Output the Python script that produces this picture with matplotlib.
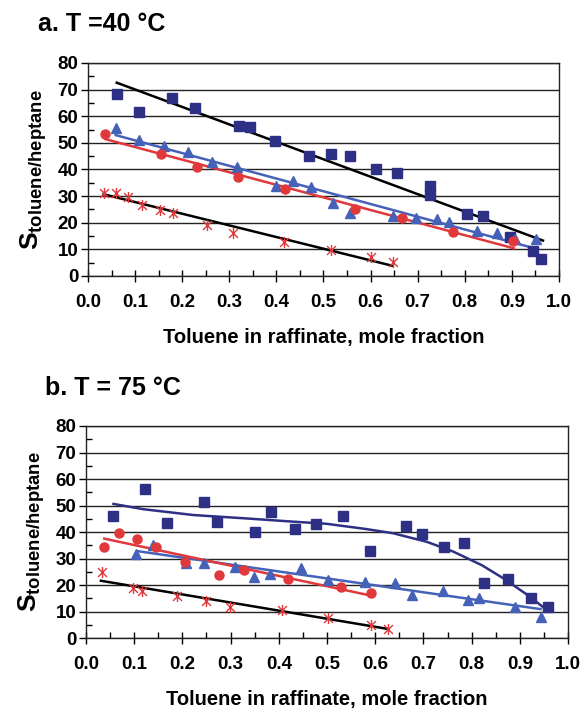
import matplotlib
matplotlib.use('Agg')
import matplotlib.pyplot as plt
from matplotlib.ticker import MultipleLocator
from matplotlib.path import Path

plt.rcParams['font.family'] = ['Liberation Sans', 'DejaVu Sans']
plt.rcParams['font.weight'] = 'bold'
plt.rcParams['mathtext.fontset'] = 'custom'
plt.rcParams['mathtext.rm'] = 'Liberation Sans:bold'
plt.rcParams['mathtext.bf'] = 'Liberation Sans:bold'

NAVY = '#2E3086'
BLUE = '#4562B8'
RED = '#E0383B'

# Excel-like star marker: an X with a vertical bar
STAR = Path([(0, -1), (0, 1), (-0.8, -0.8), (0.8, 0.8), (-0.8, 0.8), (0.8, -0.8)],
            [Path.MOVETO, Path.LINETO, Path.MOVETO, Path.LINETO, Path.MOVETO, Path.LINETO])

# ---------------- a. T = 40 C ----------------
sq40_x = [0.061, 0.108, 0.178, 0.227, 0.321, 0.343, 0.397, 0.469, 0.516, 0.557,
          0.611, 0.656, 0.726, 0.726, 0.805, 0.838, 0.895, 0.945, 0.962]
sq40_y = [68.3, 61.5, 66.7, 63.0, 56.3, 55.9, 50.6, 45.0, 46.0, 45.1,
          40.0, 38.5, 33.9, 30.6, 23.2, 22.6, 14.8, 9.3, 6.4]
sq40_fit_x = [0.061, 0.966]
sq40_fit_y = [72.6, 13.3]

tri40_x = [0.059, 0.109, 0.161, 0.213, 0.263, 0.316, 0.399, 0.436, 0.473, 0.520,
           0.556, 0.647, 0.696, 0.740, 0.766, 0.825, 0.868, 0.907, 0.951]
tri40_y = [55.5, 50.9, 49.0, 46.7, 42.7, 41.1, 33.7, 35.7, 33.6, 27.3,
           23.6, 22.6, 21.9, 21.3, 20.4, 16.9, 16.3, 13.9, 13.8]
tri40_fit_x = [0.059, 0.950]
tri40_fit_y = [52.9, 10.3]

cir40_x = [0.036, 0.156, 0.232, 0.318, 0.418, 0.567, 0.666, 0.776, 0.902]
cir40_y = [53.5, 45.9, 41.1, 37.3, 32.7, 25.1, 21.9, 16.7, 13.0]
cir40_fit_x = [0.037, 0.904]
cir40_fit_y = [51.4, 10.4]

star40_x = [0.033, 0.059, 0.084, 0.115, 0.153, 0.181, 0.253, 0.308, 0.416,
            0.517, 0.600, 0.647]
star40_y = [31.1, 31.1, 29.8, 26.7, 24.8, 23.6, 19.2, 16.3, 12.7,
            9.8, 7.0, 5.1]
star40_fit_x = [0.033, 0.647]
star40_fit_y = [30.7, 3.8]

# ---------------- b. T = 75 C ----------------
sq75_x = [0.057, 0.122, 0.169, 0.245, 0.271, 0.351, 0.384, 0.434, 0.477, 0.533,
          0.589, 0.663, 0.697, 0.743, 0.784, 0.826, 0.875, 0.923, 0.958]
sq75_y = [45.9, 56.4, 43.3, 51.4, 43.7, 40.0, 47.7, 41.1, 43.1, 45.9,
          32.7, 42.4, 39.1, 34.5, 36.0, 20.8, 22.3, 15.2, 11.6]
sq75_fit_x = [0.057, 0.119, 0.223, 0.326, 0.430, 0.499, 0.582, 0.638, 0.707,
              0.762, 0.821, 0.866, 0.921, 0.952]
sq75_fit_y = [50.6, 48.6, 46.4, 45.2, 43.9, 43.1, 41.1, 39.5, 36.3,
              32.6, 27.5, 22.5, 15.6, 11.1]

tri75_x = [0.104, 0.138, 0.207, 0.245, 0.309, 0.349, 0.382, 0.447, 0.503, 0.579,
           0.641, 0.676, 0.740, 0.793, 0.815, 0.890, 0.943]
tri75_y = [31.8, 35.1, 28.2, 28.4, 26.9, 23.1, 24.0, 26.3, 21.9, 21.1,
           20.6, 16.3, 17.8, 14.3, 15.2, 11.8, 7.9]
tri75_fit_x = [0.106, 0.943]
tri75_fit_y = [32.8, 10.9]

cir75_x = [0.037, 0.069, 0.106, 0.145, 0.205, 0.276, 0.328, 0.420, 0.529, 0.591]
cir75_y = [34.3, 39.5, 37.5, 34.3, 28.8, 23.9, 25.7, 22.3, 19.4, 17.0]
cir75_fit_x = [0.038, 0.591]
cir75_fit_y = [37.5, 16.0]

star75_x = [0.033, 0.097, 0.116, 0.188, 0.250, 0.299, 0.406, 0.503, 0.592, 0.627]
star75_y = [24.8, 18.8, 17.7, 16.0, 14.0, 11.6, 10.6, 7.7, 4.9, 3.5]
star75_fit_x = [0.031, 0.627]
star75_fit_y = [21.6, 3.4]

xticks = [0.0, 0.1, 0.2, 0.3, 0.4, 0.5, 0.6, 0.7, 0.8, 0.9, 1.0]
yticks = [0, 10, 20, 30, 40, 50, 60, 70, 80]


def panel(ax, sq, tri, cir, star, sq_line_color):
    ax.plot(sq[2], sq[3], color=sq_line_color, lw=1.8, zorder=3)
    ax.plot(tri[2], tri[3], color=BLUE, lw=1.8, zorder=3)
    ax.plot(cir[2], cir[3], color=RED, lw=1.8, zorder=3)
    ax.plot(star[2], star[3], color='black', lw=1.8, zorder=3)
    ax.plot(sq[0], sq[1], 's', color=NAVY, ms=6.5, mec=NAVY, zorder=4)
    ax.plot(tri[0], tri[1], '^', color=BLUE, ms=7.5, mec=BLUE, zorder=4)
    ax.plot(cir[0], cir[1], 'o', color=RED, ms=6.5, mec=RED, zorder=4)
    ax.plot(star[0], star[1], ls='none', marker=STAR, color=RED,
            ms=8, mew=1.0, zorder=4)

    ax.set_xlim(0, 1.0)
    ax.set_ylim(0, 80)
    ax.set_xticks(xticks)
    ax.set_xticklabels(['%.1f' % t for t in xticks], fontsize=13.5, fontweight='bold')
    ax.set_yticks(yticks)
    ax.set_yticklabels([str(t) for t in yticks], fontsize=13.5, fontweight='bold')
    ax.xaxis.set_minor_locator(MultipleLocator(0.05))
    ax.yaxis.set_minor_locator(MultipleLocator(5))
    ax.tick_params(axis='x', which='major', direction='inout', length=8, width=1, pad=9)
    ax.tick_params(axis='x', which='minor', direction='in', length=4, width=1)
    ax.tick_params(axis='y', which='major', direction='out', length=5, width=1, pad=2)
    ax.tick_params(axis='y', which='minor', direction='in', length=4, width=1)
    ax.yaxis.grid(True, color='#222222', lw=1.0)
    ax.set_axisbelow(True)
    for s in ax.spines.values():
        s.set_linewidth(1.0)
        s.set_color('#222222')
    ax.set_xlabel('Toluene in raffinate, mole fraction', fontsize=14.5,
                  fontweight='bold', labelpad=12)
    ax.set_ylabel(r'$\mathbf{S_{toluene/heptane}}$', fontsize=19, labelpad=6)


fig = plt.figure(figsize=(5.83, 7.10), dpi=100)
ax1 = fig.add_axes([0.1509, 0.6113, 0.8079, 0.3000])
ax2 = fig.add_axes([0.1475, 0.1014, 0.8268, 0.2986])

panel(ax1, (sq40_x, sq40_y, sq40_fit_x, sq40_fit_y),
      (tri40_x, tri40_y, tri40_fit_x, tri40_fit_y),
      (cir40_x, cir40_y, cir40_fit_x, cir40_fit_y),
      (star40_x, star40_y, star40_fit_x, star40_fit_y), 'black')
panel(ax2, (sq75_x, sq75_y, sq75_fit_x, sq75_fit_y),
      (tri75_x, tri75_y, tri75_fit_x, tri75_fit_y),
      (cir75_x, cir75_y, cir75_fit_x, cir75_fit_y),
      (star75_x, star75_y, star75_fit_x, star75_fit_y), NAVY)

fig.text(38 / 583, 1 - 24 / 710, 'a. T =40 \u00b0C', fontsize=18,
         fontweight='bold', ha='left', va='center')
fig.text(45 / 583, 1 - 388 / 710, 'b. T = 75 \u00b0C', fontsize=18,
         fontweight='bold', ha='left', va='center')

fig.savefig('out.png', dpi=100)
